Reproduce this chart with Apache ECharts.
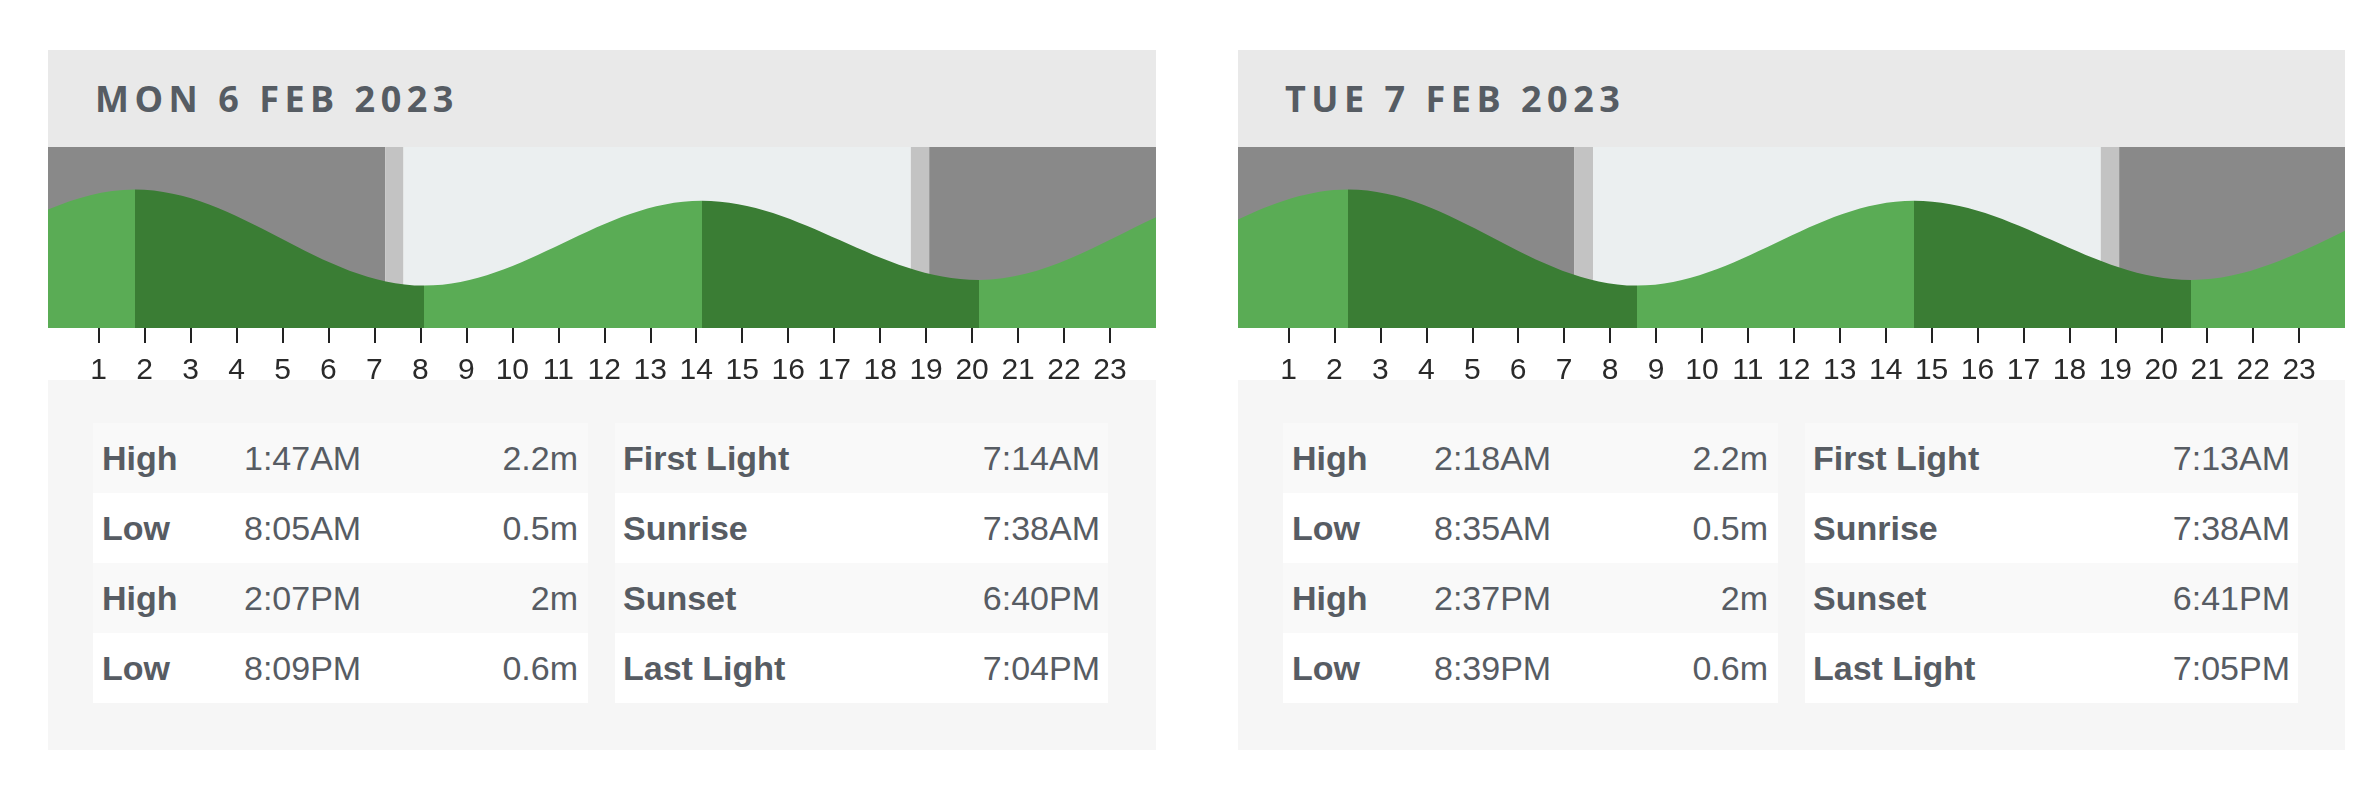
<!DOCTYPE html>
<html>
<head>
<meta charset="utf-8">
<title>Tide times</title>
<script src="https://cdn.jsdelivr.net/npm/echarts@6.0.0/dist/echarts.min.js"></script>
<style>
  html, body { margin: 0; padding: 0; background: #fff; }
  body { width: 2379px; height: 789px; position: relative; overflow: hidden;
         font-family: "Liberation Sans", Arial, sans-serif; color: #575c63; }
  .day { position: absolute; top: 50px; width: 1108px; }
  .head { height: 97px; line-height: 97px; background: #e9e9e9; padding-left: 47px;
          font-family: "Open Sans", sans-serif; font-weight: 700; font-size: 36px;
          letter-spacing: 5.5px; color: #565c63; }
  .chart { height: 233px; }
  .info { height: 370px; background: #f6f6f6; position: relative; }
  .tbl { position: absolute; top: 43px; font-size: 34px; }
  .row { position: relative; height: 70px; line-height: 70px; white-space: nowrap; }
  .row:nth-child(odd) { background: #f9f9f9; }
  .row:nth-child(even) { background: #fff; }
  .row span { position: absolute; top: 0; }
  .k { font-weight: 700; }
</style>
</head>
<body>
<script>
// days shown
const dayTitles = ['MON 6 FEB 2023', 'TUE 7 FEB 2023'];
const dayLeft = [48, 1238];

// tides (table values)
const tideKinds = ['High', 'Low', 'High', 'Low'];
const monTideTimes = ['1:47AM', '8:05AM', '2:07PM', '8:09PM'];
const monTideHeights = [2.2, 0.5, 2, 0.6];
const tueTideTimes = ['2:18AM', '8:35AM', '2:37PM', '8:39PM'];
const tueTideHeights = [2.2, 0.5, 2, 0.6];

// turning points either side of the day [hour, metres], so the curve runs on past the edges
const monBefore = [[-10.4, 2.0], [-4.25, 0.6]];
const monAfter = [[26.3, 2.2], [32.58, 0.5]];
const tueBefore = [[-9.88, 2.0], [-3.85, 0.6]];
const tueAfter = [[27.0, 2.2], [33.2, 0.5]];

// light
const lightKinds = ['First Light', 'Sunrise', 'Sunset', 'Last Light'];
const monLight = ['7:14AM', '7:38AM', '6:40PM', '7:04PM'];
const tueLight = ['7:13AM', '7:38AM', '6:41PM', '7:05PM'];

// axis
const hourMin = -0.1;
const hourMax = 24;
const tickHours = [1, 2, 3, 4, 5, 6, 7, 8, 9, 10, 11, 12, 13, 14, 15, 16, 17, 18, 19, 20, 21, 22, 23];

const days = [
  { times: monTideTimes, heights: monTideHeights, before: monBefore, after: monAfter, light: monLight },
  { times: tueTideTimes, heights: tueTideHeights, before: tueBefore, after: tueAfter, light: tueLight }
];

function toHour(s) {
  var m = s.match(/(\d+):(\d+)(AM|PM)/);
  var h = +m[1] % 12 + (m[3] === 'PM' ? 12 : 0);
  return h + +m[2] / 60;
}

function buildPanel(i) {
  var d = days[i];
  var el = document.createElement('div');
  el.className = 'day';
  el.style.left = dayLeft[i] + 'px';
  el.style.width = (i === 0 ? 1108 : 1107) + 'px';

  var head = document.createElement('div');
  head.className = 'head';
  head.textContent = dayTitles[i];
  el.appendChild(head);

  var chartEl = document.createElement('div');
  chartEl.className = 'chart';
  el.appendChild(chartEl);

  var info = document.createElement('div');
  info.className = 'info';
  var t1 = '<div class="tbl" style="left:45px;width:495px">';
  for (var k = 0; k < tideKinds.length; k++) {
    t1 += '<div class="row"><span class="k" style="left:9px">' + tideKinds[k] + '</span>' +
      '<span style="left:151px">' + d.times[k] + '</span>' +
      '<span style="right:10px">' + d.heights[k] + 'm</span></div>';
  }
  t1 += '</div>';
  var t2 = '<div class="tbl" style="left:567px;width:493px">';
  for (var k = 0; k < lightKinds.length; k++) {
    t2 += '<div class="row"><span class="k" style="left:8px">' + lightKinds[k] + '</span>' +
      '<span style="right:8px">' + d.light[k] + '</span></div>';
  }
  t2 += '</div>';
  info.innerHTML = t1 + t2;
  el.appendChild(info);
  document.body.appendChild(el);

  // tide curve: turning points only, smoothed with flat tangents
  var pts = d.before.slice();
  for (var k = 0; k < d.times.length; k++) pts.push([toHour(d.times[k]), d.heights[k]]);
  pts = pts.concat(d.after);

  // rising = light green, falling = dark green
  var pieces = [];
  for (var k = 0; k < pts.length - 1; k++) {
    pieces.push({
      gte: pts[k][0], lt: pts[k + 1][0],
      color: pts[k + 1][1] > pts[k][1] ? '#5aac55' : '#3a7d34'
    });
  }

  var lh = d.light.map(toHour);
  var night = { color: '#898989' }, dusk = { color: '#c3c3c3' }, sun = { color: '#ebeff0' };
  var bands = [
    [{ xAxis: hourMin, itemStyle: night }, { xAxis: lh[0] }],
    [{ xAxis: lh[0], itemStyle: dusk }, { xAxis: lh[1] }],
    [{ xAxis: lh[1], itemStyle: sun }, { xAxis: lh[2] }],
    [{ xAxis: lh[2], itemStyle: dusk }, { xAxis: lh[3] }],
    [{ xAxis: lh[3], itemStyle: night }, { xAxis: hourMax }]
  ];

  var chart = echarts.init(chartEl);
  chart.setOption({
    animation: false,
    grid: { left: 0, right: 0, top: 0, height: 181, outerBoundsMode: 'none' },
    xAxis: {
      type: 'value', min: hourMin, max: hourMax,
      axisLine: { show: false, onZero: false },
      splitLine: { show: false },
      axisTick: { customValues: tickHours, length: 15, lineStyle: { color: '#222', width: 2 } },
      axisLabel: {
        customValues: tickHours, margin: 28,
        fontFamily: '"Liberation Sans Narrow", "Liberation Sans", Arial',
        fontSize: 30, color: '#2a2a2a'
      }
    },
    yAxis: { type: 'value', min: -0.25, max: 2.95, show: false },
    visualMap: { type: 'piecewise', show: false, dimension: 0, seriesIndex: 0, pieces: pieces },
    series: [{
      type: 'line',
      data: pts,
      smooth: 0.36,
      smoothMonotone: 'x',
      showSymbol: false,
      lineStyle: { width: 0 },
      areaStyle: { opacity: 1, origin: 'start' },
      z: 3,
      markArea: { silent: true, data: bands }
    }]
  });
}

buildPanel(0);
buildPanel(1);
</script>
</body>
</html>
